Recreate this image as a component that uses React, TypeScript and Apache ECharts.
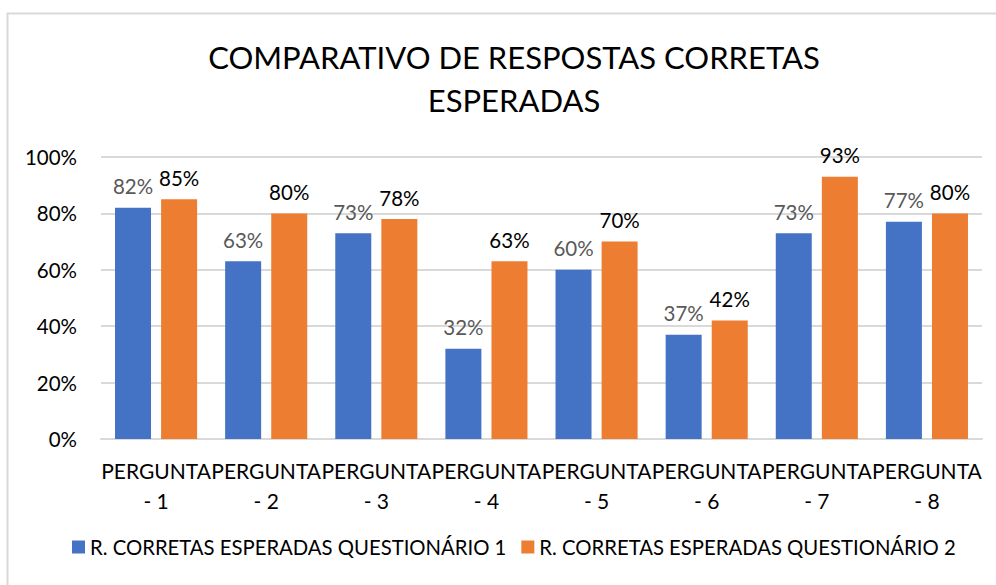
import React, { useEffect, useRef } from "react";
import * as echarts from "echarts";

const categories = ["PERGUNTA\n- 1", "PERGUNTA\n- 2", "PERGUNTA\n- 3", "PERGUNTA\n- 4", "PERGUNTA\n- 5", "PERGUNTA\n- 6", "PERGUNTA\n- 7", "PERGUNTA\n- 8"];
const seriesNames = ["R. CORRETAS ESPERADAS QUESTIONÁRIO 1", "R. CORRETAS ESPERADAS QUESTIONÁRIO 2"];
const q1 = [82, 63, 73, 32, 60, 37, 73, 77];
const q2 = [85, 80, 78, 63, 70, 42, 93, 80];
const titleText = "COMPARATIVO DE RESPOSTAS CORRETAS\nESPERADAS";

const FONT = "Lato, 'Open Sans', sans-serif";

export default function App() {
  const ref = useRef<HTMLDivElement>(null);
  useEffect(() => {
    document.body.style.margin = "0";
    const chart = echarts.init(ref.current!, undefined, { renderer: "svg" });
    chart.setOption({
      animation: false,
      backgroundColor: "#fff",
      textStyle: { fontFamily: FONT },
      title: {
        text: titleText,
        left: 509,
        top: 30,
        textAlign: "center",
        textStyle: { fontFamily: FONT, fontSize: 31, fontWeight: "normal", color: "#000", lineHeight: 43 },
      },
      graphic: [
        {
          type: "rect",
          shape: { x: 7.5, y: 13.5, width: 1100, height: 700 },
          style: { fill: "none", stroke: "#D9D9D9", lineWidth: 2 },
          silent: true,
        },
      ],
      legend: {
        left: 67,
        top: 532,
        itemWidth: 13,
        itemHeight: 13,
        itemGap: 15,
        icon: "rect",
        textStyle: { fontFamily: FONT, fontSize: 20.3, color: "#000" },
        data: seriesNames,
      },
      grid: { left: 101, right: 14, top: 157, bottom: 146, containLabel: false },
      xAxis: {
        type: "category",
        data: categories,
        axisLine: { show: true, lineStyle: { color: "#D9D9D9", width: 2 } },
        axisTick: { show: false },
        axisLabel: {
          interval: 0,
          margin: 16,
          fontFamily: FONT,
          fontSize: 21,
          lineHeight: 30,
          color: "#000",
        },
      },
      yAxis: {
        type: "value",
        min: 0,
        max: 100,
        interval: 20,
        axisLine: { show: false },
        axisTick: { show: false },
        splitLine: { lineStyle: { color: "#D9D9D9", width: 2 } },
        axisLabel: {
          formatter: "{value}%",
          margin: 24,
          fontFamily: FONT,
          fontSize: 20.5,
          color: "#000",
        },
      },
      series: [
        {
          name: seriesNames[0],
          type: "bar",
          data: q1,
          barWidth: 36,
          barGap: "28%",
          itemStyle: { color: "#4472C4" },
          label: {
            show: true,
            position: "top",
            distance: 11,
            formatter: "{c}%",
            fontFamily: FONT,
            fontSize: 20.5,
            color: "#595959",
          },
        },
        {
          name: seriesNames[1],
          type: "bar",
          data: q2,
          barWidth: 36,
          barGap: "28%",
          itemStyle: { color: "#ED7D31" },
          label: {
            show: true,
            position: "top",
            distance: 11,
            formatter: "{c}%",
            fontFamily: FONT,
            fontSize: 20.5,
            color: "#000",
          },
        },
      ],
    });
    return () => chart.dispose();
  }, []);
  return <div ref={ref} style={{ width: 996, height: 585 }} />;
}
